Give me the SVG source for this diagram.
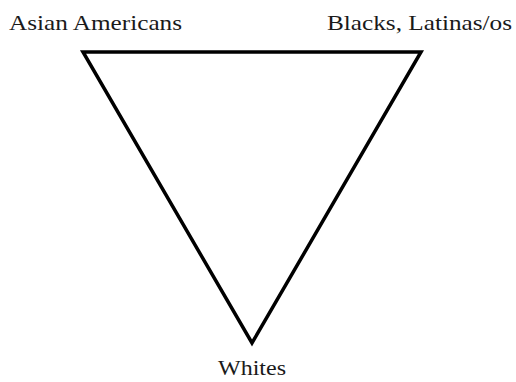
<svg xmlns="http://www.w3.org/2000/svg" width="516" height="382" viewBox="0 0 516 382">
<style>
text{font-family:"Liberation Serif","Times New Roman",serif;font-size:21px;fill:#1a1a1a}
.edge{fill:none;stroke:#000;stroke-width:3.5;stroke-linejoin:miter}
</style>
<rect width="516" height="382" fill="#fff"/>
<g id="connectors">
<polygon class="edge" points="83,52 421,52 252,343"/>
</g>
<g id="asian"><text x="9" y="30" textLength="173" lengthAdjust="spacingAndGlyphs">Asian Americans</text></g>
<g id="blacks"><text x="327" y="30" textLength="185" lengthAdjust="spacingAndGlyphs">Blacks, Latinas/os</text></g>
<g id="whites"><text x="218" y="375" textLength="68" lengthAdjust="spacingAndGlyphs">Whites</text></g>
</svg>
